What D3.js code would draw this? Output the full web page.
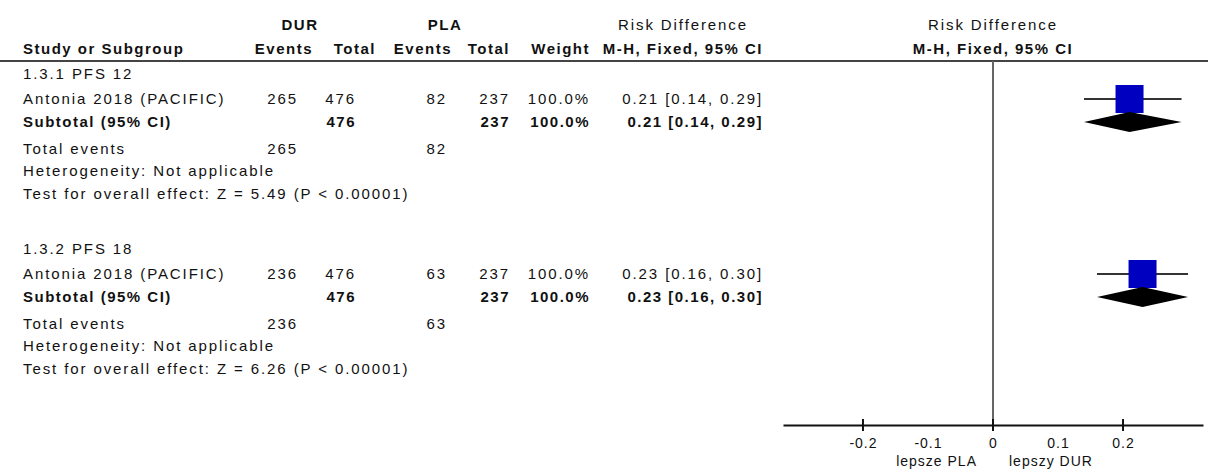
<!DOCTYPE html>
<html>
<head>
<meta charset="utf-8">
<script src="https://cdn.jsdelivr.net/npm/d3@7"></script>
<style>
  body { margin: 0; background: #fff; }
  svg { display: block; font-family: "Liberation Sans", Arial, sans-serif; }
  .t { font-size: 15px; letter-spacing: 1.9px; fill: #111; }
  .b { font-weight: bold; letter-spacing: 1.5px; }
</style>
</head>
<body>
<div id="chart"></div>
<script>
// Data
const groups = ["1.3.1 PFS 12", "1.3.2 PFS 18"];
const studies = ["Antonia 2018 (PACIFIC)", "Antonia 2018 (PACIFIC)"];
const durEvents = [265, 236];
const durTotal = [476, 476];
const plaEvents = [82, 63];
const plaTotal = [237, 237];
const weights = [100.0, 100.0];
const rd = [0.21, 0.23];
const ciLow = [0.14, 0.16];
const ciHigh = [0.29, 0.30];
const zStats = [5.49, 6.26];
const pTexts = ["P < 0.00001", "P < 0.00001"];
const axisTicks = [-0.2, -0.1, 0, 0.1, 0.2];
const majorTicks = [-0.2, 0, 0.2];
const favourLabels = ["lepsze PLA", "lepszy DUR"];

const width = 1208, height = 471;

const svg = d3.select("#chart")
    .append("svg")
    .attr("width", width)
    .attr("height", height);

// x scale for the plot panel
const x = d3.scaleLinear()
    .domain([-0.323, 0.323])
    .range([783, 1203]);

// column anchors (right edges for numbers)
const col = { study: 23, durE: 298, durT: 356, plaE: 447, plaT: 510, w: 590, ci: 763 };

function txt(xp, yc, s, anchor, bold) {
    return svg.append("text")
        .attr("class", bold ? "t b" : "t")
        .attr("x", xp)
        .attr("y", yc + 5)
        .attr("text-anchor", anchor || "start")
        .text(s);
}

// header
txt(300, 25, "DUR", "middle", true);
txt(445, 25, "PLA", "middle", true);
txt(683, 25, "Risk Difference", "middle", false);
txt(x(0), 25, "Risk Difference", "middle", false);
txt(col.study, 49, "Study or Subgroup", "start", true);
txt(313, 49, "Events", "end", true);
txt(376, 49, "Total", "end", true);
txt(452, 49, "Events", "end", true);
txt(510, 49, "Total", "end", true);
txt(590, 49, "Weight", "end", true);
txt(763, 49, "M-H, Fixed, 95% CI", "end", true);
txt(x(0), 49, "M-H, Fixed, 95% CI", "middle", true);

svg.append("line")
    .attr("x1", 0).attr("x2", width)
    .attr("y1", 61).attr("y2", 61)
    .attr("stroke", "#444").attr("stroke-width", 2);

// axis
const axisY = 425;
svg.append("line")
    .attr("x1", x(0)).attr("x2", x(0))
    .attr("y1", 61).attr("y2", axisY)
    .attr("stroke", "#666").attr("stroke-width", 2);

const axis = svg.append("g")
    .attr("transform", `translate(0, ${axisY})`)
    .call(d3.axisBottom(x).tickValues(axisTicks).tickSize(0).tickPadding(13)
        .tickFormat(d => String(+d.toFixed(1))));
axis.select(".domain").attr("stroke", "#111").attr("stroke-width", 2);
axis.selectAll("text")
    .attr("class", "t")
    .style("font-size", "14px")
    .style("letter-spacing", "1px")
    .attr("font-family", null);

svg.selectAll(".major")
    .data(majorTicks)
    .enter()
    .append("line")
    .attr("x1", d => x(d)).attr("x2", d => x(d))
    .attr("y1", axisY - 6).attr("y2", axisY + 6)
    .attr("stroke", "#111").attr("stroke-width", 2);

txt(x(0) - 16, 461, favourLabels[0], "end").style("font-size", "14px").style("letter-spacing", "1px");
txt(x(0) + 16, 461, favourLabels[1], "start").style("font-size", "14px").style("letter-spacing", "1px");

// subgroups
const groupTop = [74, 249];
const fmt2 = d3.format(".2f");

groups.forEach((g, i) => {
    const y0 = groupTop[i];
    const yStudy = y0 + 25, ySub = y0 + 48;
    const ci = `${fmt2(rd[i])} [${fmt2(ciLow[i])}, ${fmt2(ciHigh[i])}]`;

    txt(col.study, y0, g);

    txt(col.study, yStudy, studies[i]);
    txt(col.durE, yStudy, durEvents[i], "end");
    txt(col.durT, yStudy, durTotal[i], "end");
    txt(col.plaE, yStudy, plaEvents[i], "end");
    txt(col.plaT, yStudy, plaTotal[i], "end");
    txt(col.w, yStudy, d3.format(".1f")(weights[i]) + "%", "end");
    txt(col.ci, yStudy, ci, "end");

    txt(col.study, ySub, "Subtotal (95% CI)", "start", true);
    txt(col.durT, ySub, durTotal[i], "end", true);
    txt(col.plaT, ySub, plaTotal[i], "end", true);
    txt(col.w, ySub, d3.format(".1f")(weights[i]) + "%", "end", true);
    txt(col.ci, ySub, ci, "end", true);

    txt(col.study, y0 + 75, "Total events");
    txt(col.durE, y0 + 75, durEvents[i], "end");
    txt(col.plaE, y0 + 75, plaEvents[i], "end");
    txt(col.study, y0 + 97, "Heterogeneity: Not applicable");
    txt(col.study, y0 + 120, `Test for overall effect: Z = ${zStats[i]} (${pTexts[i]})`);

    // study CI line and weighted square
    svg.append("line")
        .attr("x1", x(ciLow[i])).attr("x2", x(ciHigh[i]))
        .attr("y1", yStudy).attr("y2", yStudy)
        .attr("stroke", "#333").attr("stroke-width", 2);
    const sz = 28 * Math.sqrt(weights[i] / 100);
    svg.append("rect")
        .attr("x", x(rd[i]) - sz / 2).attr("y", yStudy - sz / 2)
        .attr("width", sz).attr("height", sz)
        .attr("fill", "#0000c0");

    // pooled diamond
    svg.append("path")
        .attr("d", `M${x(ciLow[i])},${ySub} L${x(rd[i])},${ySub - 10} L${x(ciHigh[i])},${ySub} L${x(rd[i])},${ySub + 10} Z`)
        .attr("fill", "#000");
});
</script>
</body>
</html>
